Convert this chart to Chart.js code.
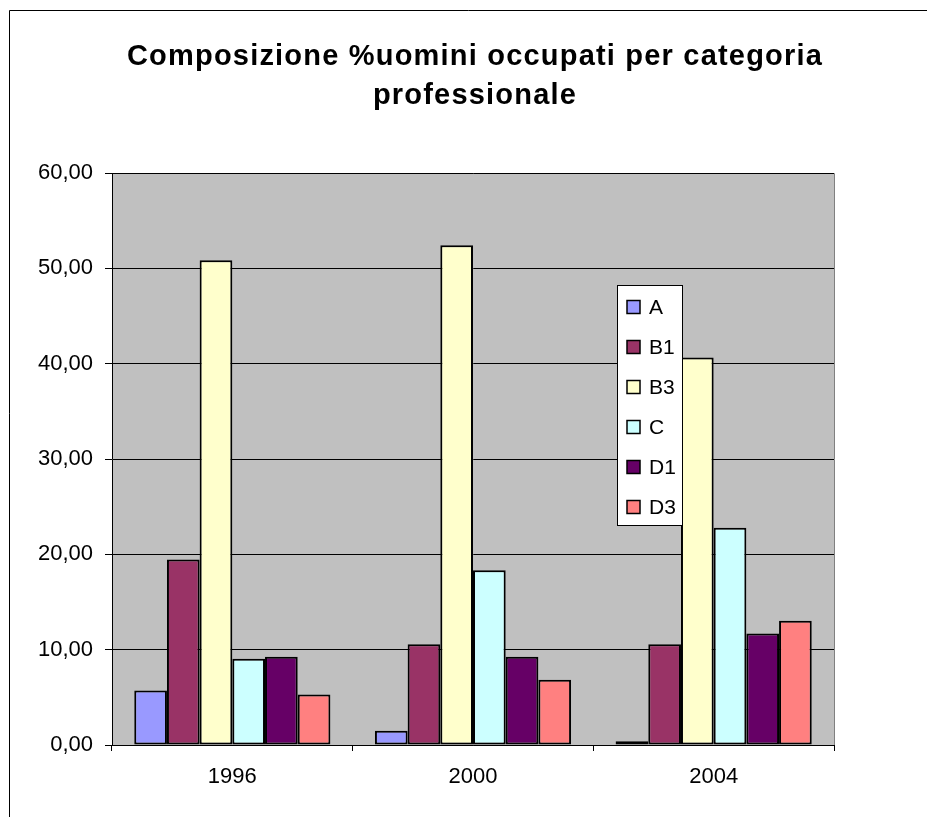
<!DOCTYPE html>
<html>
<head>
<meta charset="utf-8">
<script src="https://cdn.jsdelivr.net/npm/chart.js@4"></script>
<style>
  html, body { margin: 0; padding: 0; background: #fff; overflow: hidden; }
  #wrap { position: absolute; left: 0; top: 0; width: 927px; height: 817px; }
</style>
</head>
<body>
<div id="wrap"><canvas id="chartUomini"></canvas></div>
<script>
// DATI
const anni = ['1996', '2000', '2004'];
const categorie = ['A', 'B1', 'B3', 'C', 'D1', 'D3'];
const valA  = [5.71, 1.49, 0.40];
const valB1 = [19.46, 10.57, 10.57];
const valB3 = [50.86, 52.43, 40.65];
const valC  = [9.05, 18.34, 22.80];
const valD1 = [9.25, 9.25, 11.70];
const valD3 = [5.31, 6.84, 13.03];
const tickY = [0, 10, 20, 30, 40, 50, 60];
const colori = ['#9999FF', '#993366', '#FFFFCC', '#CCFFFF', '#660066', '#FF8080'];
const titolo = ['Composizione %uomini occupati per categoria', 'professionale'];

const FONT = "'Liberation Sans', Arial, sans-serif";
Chart.defaults.font.family = FONT;
Chart.defaults.color = '#000';

const serie = [valA, valB1, valB3, valC, valD1, valD3];

// sfondo, cornice e titolo
const sfondo = {
    id: 'sfondo',
    beforeDraw(chart) {
        const { ctx, chartArea: a } = chart;
        ctx.save();
        ctx.fillStyle = '#C0C0C0';
        ctx.fillRect(a.left, a.top, a.right - a.left, a.bottom - a.top);
        ctx.strokeStyle = '#808080';
        ctx.lineWidth = 1;
        ctx.beginPath();
        ctx.moveTo(a.left, a.top + 0.5);
        ctx.lineTo(a.right + 0.5, a.top + 0.5);
        ctx.lineTo(a.right + 0.5, a.bottom);
        ctx.stroke();
        // cornice esterna
        ctx.strokeStyle = '#000';
        ctx.beginPath();
        ctx.moveTo(9.5, 817);
        ctx.lineTo(9.5, 10.5);
        ctx.lineTo(927, 10.5);
        ctx.stroke();
        // titolo
        ctx.fillStyle = '#000';
        ctx.font = 'bold 29px ' + FONT;
        ctx.textAlign = 'center';
        ctx.textBaseline = 'alphabetic';
        ctx.letterSpacing = '1.2px';
        ctx.fillText(titolo[0], 475, 65);
        ctx.fillText(titolo[1], 475, 104);
        ctx.restore();
    }
};

// legenda dentro l'area del grafico
const legenda = {
    id: 'legenda',
    afterDraw(chart) {
        const ctx = chart.ctx;
        const x0 = 617, y0 = 285, w = 65, h = 240;
        ctx.save();
        ctx.fillStyle = '#fff';
        ctx.fillRect(x0, y0, w, h);
        ctx.strokeStyle = '#000';
        ctx.lineWidth = 1;
        ctx.strokeRect(x0 + 0.5, y0 + 0.5, w, h);
        ctx.font = '21px ' + FONT;
        ctx.textBaseline = 'middle';
        chart.data.datasets.forEach((ds, i) => {
            const cy = 307 + i * 40;
            ctx.fillStyle = ds.backgroundColor;
            ctx.fillRect(627, cy - 6.5, 13, 13);
            ctx.lineWidth = 1.5;
            ctx.strokeRect(627, cy - 6.5, 13, 13);
            ctx.fillStyle = '#000';
            ctx.fillText(ds.label, 649, cy + 1);
        });
        ctx.restore();
    }
};

new Chart(document.getElementById('chartUomini'), {
    type: 'bar',
    data: {
        labels: anni,
        datasets: categorie.map((c, i) => ({
            label: c,
            data: serie[i],
            backgroundColor: colori[i],
            borderColor: '#000',
            borderWidth: 2,
            borderSkipped: false,
            categoryPercentage: 0.815,
            barPercentage: 1
        }))
    },
    options: {
        responsive: true,
        maintainAspectRatio: false,
        animation: false,
        layout: { padding: { top: 173, right: 93, bottom: 30, left: 0 } },
        plugins: { legend: { display: false }, title: { display: false }, tooltip: { enabled: false } },
        scales: {
            x: {
                grid: { drawOnChartArea: false, drawTicks: true, tickLength: 6, color: '#000' },
                border: { color: '#000', width: 1 },
                ticks: { font: { size: 22 }, padding: 13 },
                afterFit(s) { s.height = 42; }
            },
            y: {
                min: 0,
                max: 60,
                afterBuildTicks(s) { s.ticks = tickY.map(v => ({ value: v })); },
                grid: { color: '#000', tickLength: 7 },
                border: { color: '#000', width: 1 },
                ticks: {
                    font: { size: 22 },
                    padding: 12,
                    callback: v => v.toFixed(2).replace('.', ',')
                },
                afterFit(s) { s.width = 112; }
            }
        }
    },
    plugins: [sfondo, legenda]
});
</script>
</body>
</html>
